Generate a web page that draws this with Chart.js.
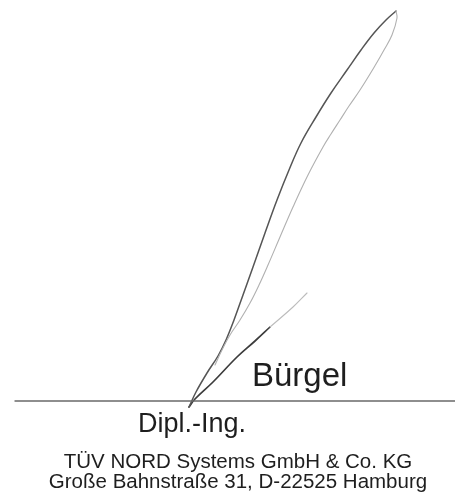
<!DOCTYPE html>
<html lang="de">
<head>
    <meta charset="UTF-8">
    <title>Unterschrift Bürgel</title>
    <script src="https://cdn.jsdelivr.net/npm/chart.js@4.4.0/dist/chart.umd.min.js"></script>
    <style>
        html, body { margin: 0; padding: 0; background: #fff; }
        #wrap { position: relative; width: 455px; height: 495px; overflow: hidden; }
        #sig { position: absolute; left: 0; top: 0; }
        .txt { position: absolute; font-family: "Liberation Sans", Arial, sans-serif; color: #1e1e1e; line-height: 1; white-space: nowrap; }
        #name { left: 252px; top: 358px; font-size: 33px; }
        #title { left: 138px; top: 410px; font-size: 27px; }
        .addr { left: 0; width: 476px; text-align: center; font-size: 20.5px; }
        #firm { top: 451px; }
        #street { top: 470.5px; }
    </style>
</head>
<body>
    <div id="wrap">
        <canvas id="sig" width="455" height="495"></canvas>
        <div class="txt" id="name">Bürgel</div>
        <div class="txt" id="title">Dipl.-Ing.</div>
        <div class="txt addr" id="firm">TÜV NORD Systems GmbH &amp; Co. KG</div>
        <div class="txt addr" id="street">Große Bahnstraße 31, D-22525 Hamburg</div>
    </div>

    <script>
        // Stroke points (x, y in page pixels, y downwards)
        const outerStroke = [
            [189, 407], [196, 392], [207, 373], [218, 356], [226, 340], [234, 320],
            [243, 295], [253, 267], [265, 233], [277, 200], [289, 170], [301, 143],
            [316, 117], [331, 93], [347, 70], [361, 50], [374, 33], [386, 20], [396, 11]
        ];
        const innerStroke = [
            [396, 11], [397, 18], [392, 35], [384, 50], [376, 64], [360, 90],
            [349, 106], [340, 120], [331, 134], [323, 147], [308, 175], [293, 207],
            [280, 237], [268, 265], [259, 285], [250, 303], [240, 320], [230, 335],
            [222, 350], [215, 365]
        ];
        const tailStroke = [
            [189, 407], [195, 399], [213, 382], [237, 357], [255, 341], [270, 327]
        ];
        const tailFaint = [
            [270, 327], [293, 307], [307, 293]
        ];
        const signLine = [
            [15, 401], [455, 401]
        ];

        const toPts = arr => arr.map(p => ({ x: p[0], y: p[1] }));

        function stroke(points, color, width) {
            return {
                data: toPts(points),
                showLine: true,
                borderColor: color,
                borderWidth: width,
                pointRadius: 0,
                tension: 0.4,
                borderCapStyle: 'round',
                borderJoinStyle: 'round',
                fill: false
            };
        }

        new Chart(document.getElementById('sig'), {
            type: 'scatter',
            data: {
                datasets: [
                    stroke(signLine, '#6a6a6a', 1.4),
                    stroke(innerStroke, '#b0b0b0', 1.1),
                    stroke(outerStroke, '#555555', 1.5),
                    stroke(tailFaint, '#bcbcbc', 1.1),
                    stroke(tailStroke, '#3c3c3c', 1.7)
                ]
            },
            options: {
                responsive: false,
                animation: false,
                layout: { padding: 0 },
                scales: {
                    x: { type: 'linear', min: 0, max: 455, display: false },
                    y: { type: 'linear', min: 0, max: 495, reverse: true, display: false }
                },
                plugins: { legend: { display: false }, tooltip: { enabled: false } }
            }
        });
    </script>
</body>
</html>
